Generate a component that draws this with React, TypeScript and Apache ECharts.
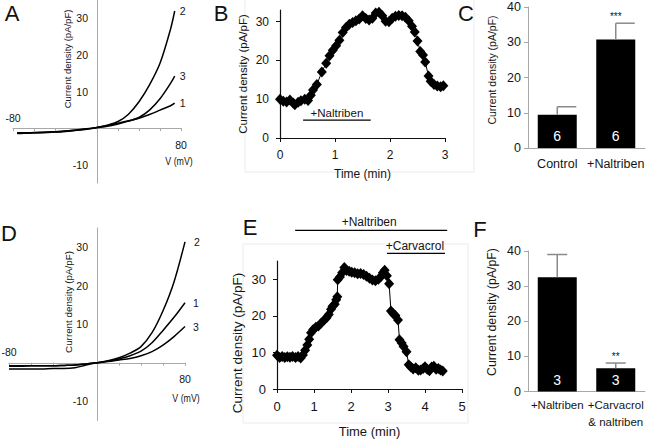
import React, { useEffect, useRef } from 'react';
import * as echarts from 'echarts';

const SANS = "Arial, 'Liberation Sans', Helvetica, sans-serif";
const GRAY = '#a8a8a8';
const INK = '#151515';
const DARK = '#111111';
const ERR = '#8a8a8a';

// ---------- Panel A (I-V curves) ----------
const voltageA = [-76, -70, -60, -50, -40, -30, -20, -10, 0, 10, 20, 30, 40, 50, 60, 70, 74];
const currentA1 = [-1.3, -1.3, -1.2, -1.1, -1.0, -0.8, -0.5, -0.2, 0.2, 0.7, 1.3, 2.0, 2.7, 3.7, 4.9, 6.1, 6.8];
const currentA2 = [-1.4, -1.4, -1.3, -1.2, -1.1, -0.9, -0.6, -0.3, 0.2, 0.8, 1.8, 3.8, 7.2, 11.8, 17.7, 27, 32];
const currentA3 = [-1.5, -1.4, -1.3, -1.2, -1.0, -0.8, -0.6, -0.3, 0.1, 0.5, 1.1, 1.9, 2.9, 4.9, 8.0, 12.2, 14.2];

// ---------- Panel D (I-V curves) ----------
const voltageD = [-80, -70, -60, -50, -40, -30, -20, -10, 0, 10, 20, 30, 40, 50, 60, 70, 80];
const currentD1 = [-0.8, -0.8, -0.8, -0.8, -0.8, -0.7, -0.6, -0.3, 0, 0.4, 1.0, 1.8, 3.0, 5.2, 8.4, 11.8, 15.6];
const currentD2 = [-1.6, -1.6, -1.6, -1.6, -1.5, -1.5, -1.3, -0.6, 0, 0.5, 1.3, 2.5, 4.2, 7.8, 13.5, 21, 31.4];
const currentD3 = [-0.9, -0.9, -0.8, -0.8, -0.8, -0.7, -0.6, -0.3, 0, 0.3, 0.7, 1.1, 1.8, 2.9, 4.6, 6.8, 9.4];

// I-V axis ranges
const ivVoltageRange = [-80, 80];
const ivCurrentRange = [-15, 35];

// ---------- Panel B (time course) ----------
const timeB = [0, 0.06, 0.12, 0.18, 0.24, 0.27, 0.33, 0.38, 0.45, 0.51, 0.56, 0.6, 0.67, 0.76, 0.84, 0.9, 0.96, 1.02, 1.08, 1.14, 1.2, 1.26, 1.32, 1.38, 1.44, 1.5, 1.56, 1.62, 1.68, 1.74, 1.8, 1.86, 1.92, 1.98, 2.04, 2.1, 2.16, 2.22, 2.28, 2.34, 2.4, 2.45, 2.5, 2.55, 2.6, 2.64, 2.7, 2.74, 2.8, 2.86, 2.92, 2.97];
const currentB = [10.0, 9.5, 9.3, 9.8, 9.0, 8.6, 9.2, 9.6, 10.0, 9.7, 11.0, 12.4, 13.8, 17.0, 19.3, 21.2, 22.6, 23.8, 25.2, 27.2, 28.5, 29.3, 29.8, 30.2, 30.7, 31.5, 30.8, 30.4, 30.9, 32.2, 32.4, 31.5, 30.1, 30.0, 30.9, 31.4, 31.6, 31.5, 31.1, 30.2, 28.8, 27.3, 25.0, 22.3, 21.4, 19.6, 16.0, 14.6, 13.8, 13.4, 13.2, 13.5];
const naltribenB = [0.42, 1.65];
const naltribenBLevel = 4.6;

// ---------- Panel C (bars) ----------
const categoriesC = ['Control', '+Naltriben'];
const meanC = [9.4, 30.8];
const semC = [2.3, 4.6];
const nC = [6, 6];
const sigC = ['', '***'];

// ---------- Panel E (time course) ----------
const timeE = [0, 0.07, 0.14, 0.21, 0.28, 0.35, 0.42, 0.5, 0.57, 0.64, 0.7, 0.76, 0.82, 0.87, 0.92, 0.98, 1.05, 1.12, 1.19, 1.27, 1.34, 1.4, 1.46, 1.5, 1.56, 1.6, 1.63, 1.64, 1.7, 1.76, 1.82, 1.88, 1.95, 2.02, 2.1, 2.18, 2.26, 2.34, 2.42, 2.5, 2.58, 2.66, 2.74, 2.8, 2.86, 2.91, 2.97, 3.03, 3.08, 3.14, 3.2, 3.27, 3.31, 3.37, 3.42, 3.5, 3.56, 3.62, 3.68, 3.75, 3.82, 3.88, 3.95, 4.0, 4.06, 4.12, 4.18, 4.24, 4.3, 4.36, 4.42, 4.48];
const currentE = [9.2, 8.6, 8.9, 8.6, 8.8, 8.7, 8.9, 8.6, 8.9, 8.5, 9.3, 10.6, 12.0, 13.6, 15.4, 16.3, 16.9, 17.2, 18.0, 18.8, 19.5, 20.4, 21.8, 22.6, 23.2, 24.4, 25.2, 29.9, 30.6, 31.8, 33.2, 32.4, 32.2, 31.9, 31.8, 31.5, 31.6, 31.3, 30.8, 30.3, 29.8, 29.6, 30.0, 30.6, 31.8, 32.5, 31.0, 28.8, 21.3, 20.6, 20.1, 18.9, 13.5, 12.6, 11.6, 10.2, 6.6, 6.0, 5.5, 5.8, 5.1, 5.2, 5.6, 6.1, 5.4, 5.0, 6.0, 6.2, 5.4, 5.6, 5.2, 4.9];
const naltribenE = [0.49, 4.6];
const naltribenELevel = 43.4;
const carvacrolE = [2.97, 4.54];
const carvacrolELevel = 37.1;

// ---------- Panel F (bars) ----------
const categoriesF = ['+Naltriben', '+Carvacrol\n& naltriben'];
const meanF = [32.5, 6.6];
const semF = [6.5, 1.5];
const nF = [3, 3];
const sigF = ['', '**'];

// offsets that bring an I-V axis onto the other axis' zero
const zeroFrac = (range: number[]) => (0 - range[0]) / (range[1] - range[0]);

const ivXAxis = (grid: number, gridH: number, bottom: boolean) => ({
  gridIndex: grid,
  type: 'value',
  min: ivVoltageRange[0],
  max: ivVoltageRange[1],
  interval: 20,
  position: bottom ? 'bottom' : 'top',
  offset: bottom ? -zeroFrac(ivCurrentRange) * gridH : -(1 - zeroFrac(ivCurrentRange)) * gridH,
  axisLine: { show: bottom, onZero: false, lineStyle: { color: GRAY, width: 1 } },
  axisTick: { show: bottom, length: 3, lineStyle: { color: GRAY } },
  splitLine: { show: false },
  axisLabel: {
    fontSize: 10.5,
    color: INK,
    fontFamily: SANS,
    margin: bottom ? 11 : 5,
    formatter: (v: number) => (bottom ? (v === 80 ? '80' : '') : v === -80 ? '-80' : ''),
  },
});

const ivYAxis = (grid: number, gridW: number) => ({
  gridIndex: grid,
  type: 'value',
  min: ivCurrentRange[0],
  max: ivCurrentRange[1],
  interval: 5,
  position: 'left',
  offset: -zeroFrac(ivVoltageRange) * gridW,
  axisLine: { show: true, onZero: false, lineStyle: { color: GRAY, width: 1 } },
  axisTick: { show: false },
  splitLine: { show: false },
  axisLabel: {
    fontSize: 10.5,
    color: INK,
    fontFamily: SANS,
    margin: 9,
    formatter: (v: number) => (v !== 0 && v % 10 === 0 ? String(v) : ''),
  },
});

const ivSeries = (xs: number[], ys: number[], name: string, xi: number, yi: number, dist: number) => ({
  type: 'line',
  name,
  xAxisIndex: xi,
  yAxisIndex: yi,
  data: xs.map((x, k) => [x, ys[k]]),
  symbol: 'none',
  showSymbol: false,
  smooth: 0.3,
  lineStyle: { color: '#000', width: 1.5 },
  endLabel: { show: true, formatter: name, color: INK, fontSize: 10.5, fontFamily: SANS, distance: dist },
  silent: true,
});

const timeXAxis = (grid: number, max: number, fontSize: number, name: string, gap: number) => ({
  gridIndex: grid,
  type: 'value',
  min: 0,
  max,
  interval: 1,
  name,
  nameLocation: 'middle',
  nameGap: gap,
  nameTextStyle: { fontSize, color: INK, fontFamily: SANS },
  axisLine: { show: true, onZero: false, lineStyle: { color: DARK, width: 1.2 } },
  axisTick: { show: true, length: 4, lineStyle: { color: DARK } },
  splitLine: { show: false },
  axisLabel: { fontSize, color: INK, fontFamily: SANS, margin: 11 },
});

const timeYAxis = (grid: number, max: number, fontSize: number) => ({
  gridIndex: grid,
  type: 'value',
  min: 0,
  max,
  interval: 10,
  axisLine: { show: true, onZero: false, lineStyle: { color: DARK, width: 1.2 } },
  axisTick: { show: true, length: 4, lineStyle: { color: DARK }, customValues: [0, 10, 20, 30] },
  splitLine: { show: false },
  axisLabel: {
    fontSize,
    color: INK,
    fontFamily: SANS,
    margin: 11,
    customValues: [0, 10, 20, 30],
    formatter: (v: number) => (v % 10 === 0 ? String(v) : ''),
  },
});

const timeSeries = (xs: number[], ys: number[], xi: number, yi: number) => ({
  type: 'line',
  xAxisIndex: xi,
  yAxisIndex: yi,
  data: xs.map((x, k) => [x, ys[k]]),
  symbol: 'diamond',
  symbolSize: [10, 11],
  showSymbol: true,
  showAllSymbol: true,
  itemStyle: { color: '#000' },
  lineStyle: { color: '#000', width: 1 },
  silent: true,
});

const barXAxis = (grid: number, cats: string[], margin: number, fontSize: number) => ({
  gridIndex: grid,
  type: 'category',
  data: cats,
  axisLine: { show: true, onZero: false, lineStyle: { color: GRAY, width: 1 } },
  axisTick: { show: false },
  axisLabel: { fontSize, lineHeight: 17, color: INK, fontFamily: SANS, margin, interval: 0 },
});

const barYAxis = (grid: number) => ({
  gridIndex: grid,
  type: 'value',
  min: 0,
  max: 40,
  interval: 10,
  axisLine: { show: true, onZero: false, lineStyle: { color: GRAY, width: 1 } },
  axisTick: { show: true, length: 4, lineStyle: { color: GRAY } },
  splitLine: { show: false },
  axisLabel: { fontSize: 12.5, color: INK, fontFamily: SANS, margin: 7 },
});

const barSeries = (means: number[], ns: number[], xi: number, yi: number) => ({
  type: 'bar',
  xAxisIndex: xi,
  yAxisIndex: yi,
  data: means,
  barWidth: 39,
  itemStyle: { color: '#000' },
  label: {
    show: true,
    position: 'insideBottom',
    distance: 5,
    color: '#fff',
    fontSize: 14,
    fontFamily: SANS,
    formatter: (p: any) => String(ns[p.dataIndex]),
  },
  silent: true,
});

const errSeries = (means: number[], sems: number[], sigs: string[], xi: number, yi: number, capMode: 'right' | 'center') => ({
  type: 'custom',
  xAxisIndex: xi,
  yAxisIndex: yi,
  data: means.map((m, i) => [i, m, sems[i]]),
  z: 5,
  silent: true,
  renderItem: (params: any, api: any) => {
    const i = api.value(0);
    const v = api.value(1);
    const e = api.value(2);
    const base = api.coord([i, v]);
    const top = api.coord([i, v + e]);
    const x0 = capMode === 'right' ? top[0] : top[0] - 10;
    const x1 = capMode === 'right' ? top[0] + 19 : top[0] + 10;
    const st = { stroke: ERR, lineWidth: 1.5 };
    return {
      type: 'group',
      children: [
        { type: 'line', shape: { x1: base[0], y1: base[1], x2: top[0], y2: top[1] }, style: st },
        { type: 'line', shape: { x1: x0, y1: top[1], x2: x1, y2: top[1] }, style: st },
        {
          type: 'text',
          x: top[0],
          y: top[1] - 7,
          style: { text: sigs[params.dataIndex], fontSize: 10, fill: INK, fontFamily: SANS, align: 'center', verticalAlign: 'middle' },
        },
      ],
    };
  },
});

const GRID_A = { left: 13, top: 0, width: 168, height: 183 };
const GRID_D = { left: 9, top: 228, width: 176, height: 192.5 };

const App: React.FC = () => {
  const ref = useRef<HTMLDivElement>(null);

  useEffect(() => {
    if (!ref.current) return;
    const chart = echarts.init(ref.current, undefined, { renderer: 'svg' });

    const option: any = {
      animation: false,
      backgroundColor: '#ffffff',
      grid: [
        { ...GRID_A, outerBoundsMode: 'none' }, // A
        { left: 280, top: 10, width: 165, height: 128, outerBoundsMode: 'none' }, // B
        { left: 528, top: 7, width: 117, height: 141, outerBoundsMode: 'none' }, // C
        { ...GRID_D, outerBoundsMode: 'none' }, // D
        { left: 277, top: 261, width: 185, height: 128, outerBoundsMode: 'none' }, // E
        { left: 528, top: 251, width: 117, height: 140.5, outerBoundsMode: 'none' }, // F
      ],
      xAxis: [
        ivXAxis(0, GRID_A.height, true), // 0 A bottom
        ivXAxis(0, GRID_A.height, false), // 1 A top
        timeXAxis(1, 3, 12, 'Time (min)', 30), // 2 B
        barXAxis(2, categoriesC, 7, 12.5), // 3 C
        ivXAxis(3, GRID_D.height, true), // 4 D bottom
        ivXAxis(3, GRID_D.height, false), // 5 D top
        timeXAxis(4, 5, 13, 'Time (min)', 36), // 6 E
        barXAxis(5, categoriesF, 5, 11.5), // 7 F
      ],
      yAxis: [
        ivYAxis(0, GRID_A.width), // 0 A
        timeYAxis(1, 33, 12), // 1 B
        barYAxis(2), // 2 C
        ivYAxis(3, GRID_D.width), // 3 D
        timeYAxis(4, 35, 13), // 4 E
        barYAxis(5), // 5 F
      ],
      series: [
        ivSeries(voltageA, currentA2, '2', 0, 0, 5),
        ivSeries(voltageA, currentA3, '3', 0, 0, 5),
        ivSeries(voltageA, currentA1, '1', 0, 0, 5),
        timeSeries(timeB, currentB, 2, 1),
        barSeries(meanC, nC, 3, 2),
        errSeries(meanC, semC, sigC, 3, 2, 'right'),
        ivSeries(voltageD, currentD2, '2', 4, 3, 9),
        ivSeries(voltageD, currentD1, '1', 4, 3, 8),
        ivSeries(voltageD, currentD3, '3', 4, 3, 8),
        timeSeries(timeE, currentE, 6, 4),
        barSeries(meanF, nF, 7, 5),
        errSeries(meanF, semF, sigF, 7, 5, 'center'),
      ],
    };
    chart.setOption(option);

    const px = (xi: number, yi: number, pt: number[]) =>
      chart.convertToPixel({ xAxisIndex: xi, yAxisIndex: yi } as any, pt) as unknown as number[];

    const bL0 = px(2, 1, [naltribenB[0], naltribenBLevel]);
    const bL1 = px(2, 1, [naltribenB[1], naltribenBLevel]);
    const eN0 = px(6, 4, [naltribenE[0], naltribenELevel]);
    const eN1 = px(6, 4, [naltribenE[1], naltribenELevel]);
    const eC0 = px(6, 4, [carvacrolE[0], carvacrolELevel]);
    const eC1 = px(6, 4, [carvacrolE[1], carvacrolELevel]);

    const letter = (t: string, x: number, y: number) => ({
      type: 'text',
      x,
      y,
      style: { text: t, fontSize: 22, fontFamily: SANS, fill: DARK, align: 'center', verticalAlign: 'middle' },
      silent: true,
    });
    const yName = (x: number, y: number, size: number) => ({
      type: 'text',
      x,
      y,
      rotation: Math.PI / 2,
      style: { text: 'Current density (pA/pF)', fontSize: size, fontFamily: SANS, fill: INK, align: 'center', verticalAlign: 'middle' },
      silent: true,
    });
    const label = (t: string, x: number, y: number, size: number, scaleX = 1) => ({
      type: 'text',
      x,
      y,
      scaleX,
      style: { text: t, fontSize: size, fontFamily: SANS, fill: INK, align: 'center', verticalAlign: 'middle' },
      silent: true,
    });
    const hline = (a: number[], b: number[]) => ({
      type: 'line',
      shape: { x1: a[0], y1: a[1], x2: b[0], y2: b[1] },
      style: { stroke: '#000', lineWidth: 1.3 },
      silent: true,
    });
    const box = (x: number, y: number, w: number, h: number) => ({
      type: 'rect',
      shape: { x, y, width: w, height: h },
      style: { fill: 'none', stroke: '#ebebeb', lineWidth: 1 },
      silent: true,
      z: -10,
    });

    chart.setOption({
      graphic: [
        box(245, -2, 229, 174),
        box(243, 244, 225, 179),
        letter('A', 12, 13),
        letter('B', 221, 13),
        letter('C', 466, 13),
        letter('D', 9, 233),
        letter('E', 250, 227),
        letter('F', 480, 229),
        yName(67, 59, 9.5),
        yName(243, 74, 11.5),
        yName(492, 70, 10.5),
        yName(68, 302, 9.8),
        yName(237, 343, 13.5),
        yName(492, 312, 12.3),
        label('V (mV)', 179, 161, 11, 0.8),
        label('V (mV)', 186, 398, 11, 0.8),
        hline(bL0, bL1),
        label('+Naltriben', (bL0[0] + bL1[0]) / 2, bL0[1] - 7, 11.5),
        hline(eN0, eN1),
        label('+Naltriben', (eN0[0] + eN1[0]) / 2 - 2, eN0[1] - 8, 12),
        hline(eC0, eC1),
        label('+Carvacrol', (eC0[0] + eC1[0]) / 2 - 1, eC0[1] - 7, 12),
      ],
    });

    return () => chart.dispose();
  }, []);

  return <div ref={ref} style={{ position: 'fixed', left: 0, top: 0, width: 650, height: 439, background: '#fff' }} />;
};

export default App;
